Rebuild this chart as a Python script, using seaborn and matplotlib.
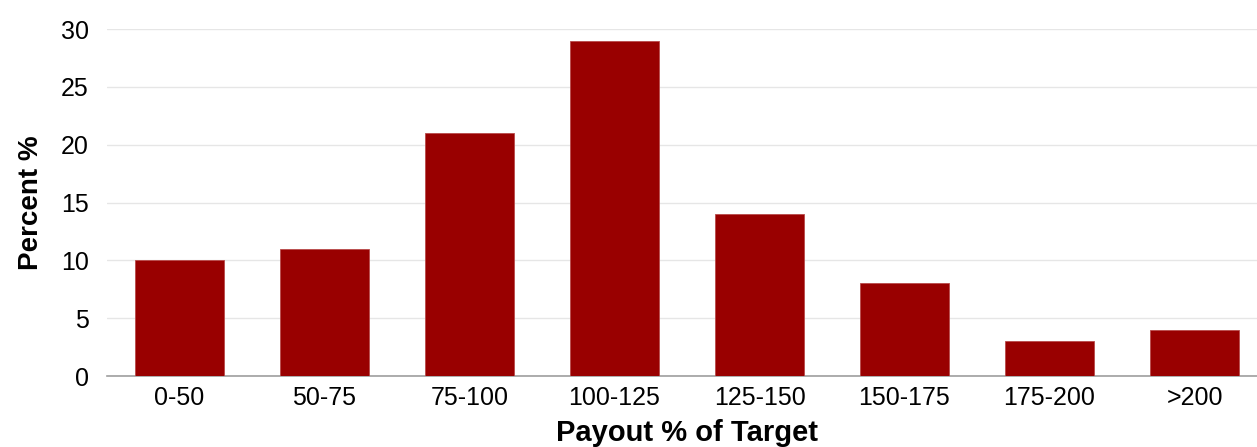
import numpy as np
import pandas as pd
import matplotlib
matplotlib.use("Agg")
import matplotlib.pyplot as plt
import seaborn as sns

categories = ["0-50", "50-75", "75-100", "100-125", "125-150", "150-175", "175-200", ">200"]
percent = [10, 11, 21, 29, 14, 8, 3, 4]
yticks = [0, 5, 10, 15, 20, 25, 30]

df = pd.DataFrame({"bucket": categories, "pct": percent})

sns.set_style("white")
plt.rcParams['font.family'] = ['Liberation Sans', 'DejaVu Sans']

fig = plt.figure(figsize=(12.57, 4.47), dpi=100)
# axes: left 107px, right beyond the image (chart is cropped on the right)
ax = fig.add_axes([107 / 1257, (447 - 376) / 447, 1160 / 1257, (376 - 29) / 447])

sns.barplot(data=df, x="bucket", y="pct", color="#990000", width=0.61,
            saturation=1, edgecolor="#b84a4a", linewidth=0.6, ax=ax, zorder=3)

ax.set_xlim(-0.5, 7.5)
ax.set_ylim(0, 30)
ax.set_yticks(yticks)
ax.yaxis.grid(True, color="#e6e6e6", linewidth=1, zorder=0)
ax.set_axisbelow(True)
for s in ["top", "right", "left"]:
    ax.spines[s].set_visible(False)
ax.spines["bottom"].set_color("#9e9e9e")
ax.spines["bottom"].set_linewidth(1.2)
ax.tick_params(axis="both", length=0, labelsize=18, colors="black", pad=7)
ax.tick_params(axis="y", pad=13)

ax.set_ylabel("Percent %", fontsize=20, fontweight="bold", color="black", labelpad=12)
ax.set_xlabel("Payout % of Target", fontsize=21, fontweight="bold", color="black", labelpad=7)

fig.savefig("out.png", dpi=100)
